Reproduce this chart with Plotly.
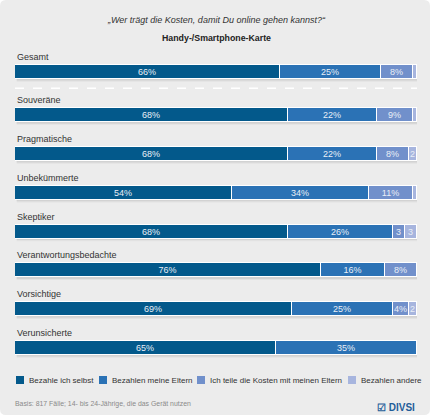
import plotly.graph_objects as go

groups = ["Gesamt", "Souveräne", "Pragmatische", "Unbekümmerte", "Skeptiker",
          "Verantwortungsbedachte", "Vorsichtige", "Verunsicherte"]
series_names = ["Bezahle ich selbst", "Bezahlen meine Eltern",
                "Ich teile die Kosten mit meinen Eltern", "Bezahlen andere"]
selbst = [66, 68, 68, 54, 68, 76, 69, 65]
eltern = [25, 22, 22, 34, 26, 16, 25, 35]
teilen = [8, 9, 8, 11, 3, 8, 4, 0]
andere = [1, 1, 2, 1, 3, 0, 2, 0]

title = "„Wer trägt die Kosten, damit Du online gehen kannst?“"
subtitle = "Handy-/Smartphone-Karte"
footer = "Basis: 817 Fälle; 14- bis 24-Jährige, die das Gerät nutzen"

colors = ["#03598b", "#2b72b5", "#7190cb", "#a7b5de"]
FONT = "Liberation Sans, Arial, sans-serif"
BG = "#ececec"

W, H, L, R, T, B = 432, 418, 15, 15, 50, 56
pw, ph = W - L - R, H - T - B
def px(x):
    return (x - L) / pw
def py(y):
    return (H - B - y) / ph

pos = [i + (0.11 if i > 0 else 0) for i in range(len(groups))]
BAR_W = 0.36

def label(v):
    if v >= 4:
        return f"{v}%"
    if v >= 2:
        return str(v)
    return ""

fig = go.Figure()
for name, vals, col in zip(series_names, [selbst, eltern, teilen, andere], colors):
    fig.add_trace(go.Bar(
        x=vals, y=pos, orientation="h", name=name,
        marker=dict(color=col, line=dict(color="#ffffff", width=1)),
        text=[label(v) for v in vals], textposition="inside",
        insidetextanchor="middle",
        textfont=dict(color="#e9eef6", size=9, family=FONT),
        width=BAR_W, hoverinfo="skip", showlegend=False,
    ))

annotations = []
shapes = []

# rounded panel background
x0, x1, y0, y1, r = 0, 430, 0, 415, 6
path = (f"M {px(x0 + r)},{py(y0)} L {px(x1 - r)},{py(y0)} Q {px(x1)},{py(y0)} {px(x1)},{py(y0 + r)} "
        f"L {px(x1)},{py(y1 - r)} Q {px(x1)},{py(y1)} {px(x1 - r)},{py(y1)} "
        f"L {px(x0 + r)},{py(y1)} Q {px(x0)},{py(y1)} {px(x0)},{py(y1 - r)} "
        f"L {px(x0)},{py(y0 + r)} Q {px(x0)},{py(y0)} {px(x0 + r)},{py(y0)} Z")
shapes.append(dict(type="path", xref="paper", yref="paper", path=path,
                   fillcolor=BG, line=dict(width=0), layer="below"))

# soft shadows below bars
for p in pos:
    for k, op in enumerate([0.07, 0.04]):
        shapes.append(dict(type="rect", xref="x", yref="y", layer="below",
                           x0=0.4, x1=100.6,
                           y0=p - BAR_W / 2 + 0.03, y1=p + BAR_W / 2 + 0.04 + 0.03 * k,
                           fillcolor=f"rgba(0,0,0,{op})", line=dict(width=0)))

for g, p in zip(groups, pos):
    annotations.append(dict(x=0, xref="paper", y=p - 0.385, yref="y",
                            text=g, showarrow=False, xanchor="left", yanchor="middle",
                            font=dict(size=9, color="#333333", family=FONT)))

annotations += [
    dict(x=0.5, xref="paper", y=py(20), yref="paper", text=f"<i>{title}</i>", showarrow=False,
         font=dict(size=9, color="#333333", family=FONT), xanchor="center", yanchor="middle"),
    dict(x=0.5, xref="paper", y=py(38), yref="paper", text=f"<b>{subtitle}</b>", showarrow=False,
         font=dict(size=8.8, color="#222222", family=FONT), xanchor="center", yanchor="middle"),
    dict(x=px(13), xref="paper", y=py(404), yref="paper", text=footer, showarrow=False,
         font=dict(size=6.9, color="#8a8a8a", family=FONT), xanchor="left", yanchor="middle"),
    dict(x=px(417), xref="paper", y=py(407), yref="paper", text="<b>☑ DIVSI</b>", showarrow=False,
         font=dict(size=10, color="#1f5d99", family=FONT), xanchor="right", yanchor="middle"),
]

leg_x = [16, 99, 197, 348]
leg_y = 380
for name, col, lx in zip(series_names, colors, leg_x):
    shapes.append(dict(type="rect", xref="paper", yref="paper",
                       x0=px(lx), x1=px(lx + 8), y0=py(leg_y - 4), y1=py(leg_y + 4),
                       fillcolor=col, line=dict(width=0)))
    annotations.append(dict(x=px(lx + 11), xref="paper", y=py(leg_y), yref="paper",
                            text=name, showarrow=False, xanchor="left", yanchor="middle",
                            font=dict(size=8, color="#333333", family=FONT)))

shapes.append(dict(type="line", xref="paper", x0=0, x1=1, yref="y", y0=0.42, y1=0.42,
                   line=dict(color="#ffffff", width=1.5, dash="dash")))

fig.update_layout(
    width=W, height=H,
    margin=dict(l=L, r=R, t=T, b=B),
    paper_bgcolor="#ffffff", plot_bgcolor=BG,
    barmode="stack", bargap=0,
    showlegend=False,
    uniformtext=dict(minsize=9, mode="show"),
    xaxis=dict(range=[0, 100], visible=False, fixedrange=True),
    yaxis=dict(range=[7.47, -0.567], visible=False, fixedrange=True),
    annotations=annotations, shapes=shapes,
    font=dict(family=FONT),
)

fig.write_html("out.html", config={"displayModeBar": False},
               post_script="document.body.style.margin='0';document.body.style.overflow='hidden';")
